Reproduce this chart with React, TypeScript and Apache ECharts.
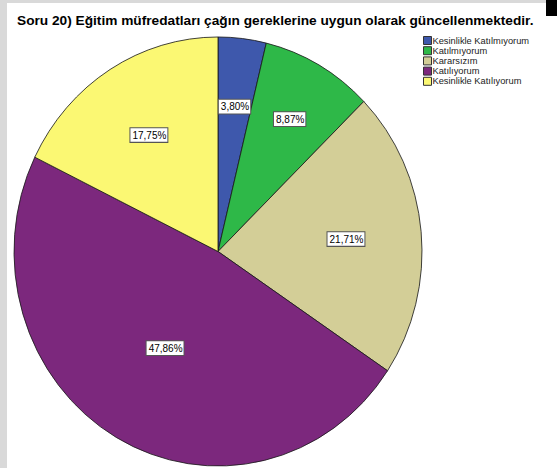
import React, { useEffect, useRef } from 'react';
import * as echarts from 'echarts';

const titleText = 'Soru 20) Eğitim müfredatları çağın gereklerine uygun olarak güncellenmektedir.';
const categories = ['Kesinlikle Katılmıyorum', 'Katılmıyorum', 'Kararsızım', 'Katılıyorum', 'Kesinlikle Katılıyorum'];
const values = [3.8, 8.87, 21.71, 47.86, 17.75];
const colors = ['#3E58AC', '#2EB848', '#D3CE97', '#7C287D', '#FBF873'];
const labelRadius = [0.68, 0.71, 0.63, 0.52, 0.64];

const FONT = '"Liberation Sans", Arial, Helvetica, sans-serif';
const CX = 218;
const CY = 251.5;
const R = 204;
const STRETCH = 1.0515;

export default function App() {
  const pieRef = useRef<HTMLDivElement>(null);
  const topRef = useRef<HTMLDivElement>(null);
  useEffect(() => {
    if (!pieRef.current || !topRef.current) return;
    const pie = echarts.init(pieRef.current, null, { renderer: 'svg' });
    const over = echarts.init(topRef.current, null, { renderer: 'svg' });
    const total = values.reduce((a, b) => a + b, 0);
    const mids: number[] = [];
    let acc = 0;
    values.forEach((v) => {
      mids.push(((acc + v / 2) / total) * Math.PI * 2);
      acc += v;
    });
    const seriesData = categories.map((name, i) => ({ name, value: values[i], itemStyle: { color: colors[i] } }));
    pie.setOption({
      animation: false,
      series: [
        {
          type: 'pie',
          center: [CX, CY],
          radius: [0, R],
          startAngle: 90,
          clockwise: true,
          avoidLabelOverlap: false,
          emphasis: { disabled: true },
          itemStyle: { borderColor: '#1a1a1a', borderWidth: 0.8 },
          label: {
            show: true,
            position: 'inside',
            formatter: (p: any) => values[p.dataIndex].toFixed(2).replace('.', ',') + '%',
            fontFamily: FONT,
            fontSize: 10,
            color: '#000',
            backgroundColor: '#fff',
            borderColor: '#555',
            borderWidth: 1,
            padding: [2, 1, 1, 2],
          },
          labelLayout: (params: any) => {
            const i = params.dataIndex;
            const a = mids[i];
            const f = labelRadius[i];
            return {
              x: CX + f * R * Math.sin(a),
              y: CY - f * R * Math.cos(a),
              align: 'center',
              verticalAlign: 'middle',
            };
          },
          data: seriesData,
        },
      ],
    });
    over.setOption({
      animation: false,
      title: {
        text: titleText,
        left: 17,
        top: 13.5,
        padding: 0,
        textStyle: { fontFamily: FONT, fontSize: 13.7, fontWeight: 'bold', color: '#000' },
      },
      legend: {
        orient: 'vertical',
        left: 423,
        top: 36,
        padding: 0,
        itemWidth: 8,
        itemHeight: 8,
        itemGap: 1.2,
        icon: 'rect',
        selectedMode: false,
        itemStyle: { borderColor: '#333', borderWidth: 1 },
        textStyle: { fontFamily: FONT, fontSize: 9.3, lineHeight: 9, color: '#222', padding: [0, 0, 0, -4] },
        data: categories,
      },
      graphic: [
        { type: 'rect', shape: { x: 0, y: 0, width: 7, height: 468 }, style: { fill: '#d9d9d9' }, silent: true },
        { type: 'rect', shape: { x: 0, y: 0, width: 557, height: 3 }, style: { fill: '#d9d9d9' }, silent: true },
        { type: 'rect', shape: { x: 546, y: 0, width: 11, height: 16 }, style: { fill: '#000' }, silent: true },
      ],
      series: [
        {
          type: 'pie',
          center: [-100, -100],
          radius: [0, 0],
          silent: true,
          label: { show: false },
          labelLine: { show: false },
          itemStyle: { borderColor: '#333', borderWidth: 1 },
          data: seriesData,
        },
      ],
    });
    return () => {
      pie.dispose();
      over.dispose();
    };
  }, []);
  return (
    <div style={{ position: 'fixed', left: 0, top: 0, width: 557, height: 468, background: '#fff', overflow: 'hidden' }}>
      <div
        ref={pieRef}
        style={{
          position: 'absolute',
          left: 0,
          top: 0,
          width: 557,
          height: 468,
          transformOrigin: `${CX}px ${CY}px`,
          transform: `scaleY(${STRETCH})`,
        }}
      />
      <div
        ref={topRef}
        style={{ position: 'absolute', left: 0, top: 0, width: 557, height: 468, pointerEvents: 'none' }}
      />
    </div>
  );
}
